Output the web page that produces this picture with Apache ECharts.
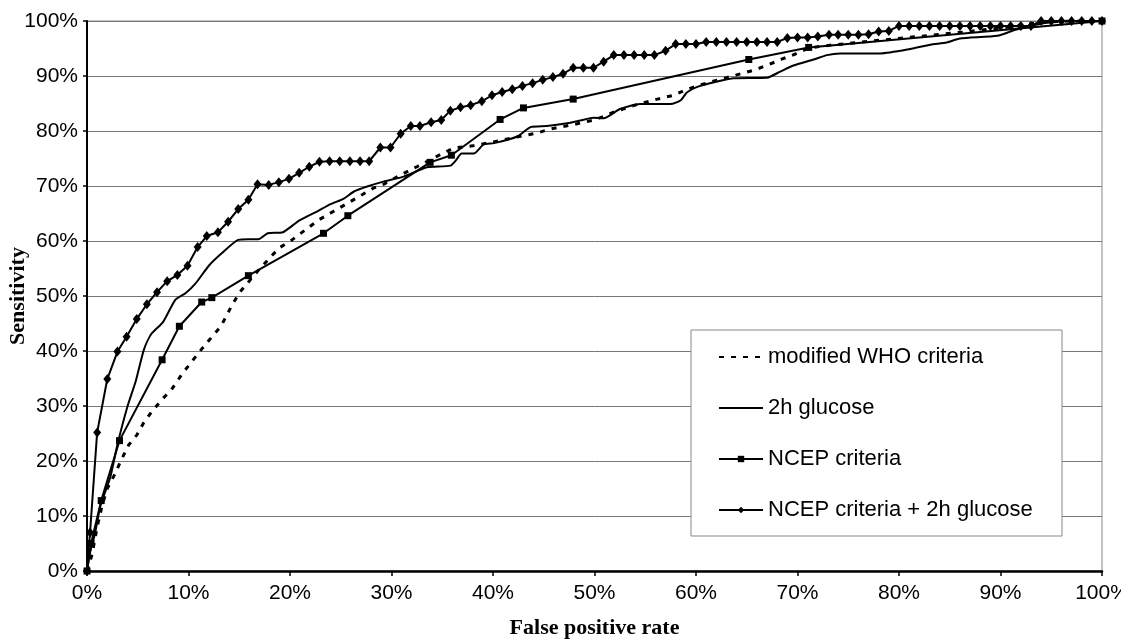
<!DOCTYPE html>
<html>
<head>
<meta charset="utf-8">
<script src="https://cdn.jsdelivr.net/npm/echarts@6/dist/echarts.min.js"></script>
<style>
html,body{margin:0;padding:0;background:#fff;}
#chart{width:1121px;height:639px;}
</style>
</head>
<body>
<div id="chart"></div>
<script>
// Tick values (percent)
const xTicks = [0,10,20,30,40,50,60,70,80,90,100];
const yTicks = [0,10,20,30,40,50,60,70,80,90,100];

// Series names
const seriesNames = ['modified WHO criteria','2h glucose','NCEP criteria','NCEP criteria + 2h glucose'];

// modified WHO criteria (dashed)
const whoX = [0,0.5,1,1.5,2,2.8,3.3,4.1,4.9,5.6,6.4,7.4,8.4,9.4,11.1,12,13.2,14.3,15.1,16.9,18.1,18.9,20.2,21.5,22.8,24.3,25.6,27.1,28.2,29.2,31.2,32.5,34.8,36.1,38,40,42,44.3,45.7,48,50,52,54,56.2,57.8,59,60.5,62,64,65.8,67.2,68.5,69.8,71.1,73.2,79.8,86.4,91.3,94,97,100];
const whoY = [0,3,8,12,15,17.8,19.9,22.9,24.7,27,29,31.2,33.2,35.9,39.9,41.9,44.5,48.4,50.8,54.7,57.1,58.7,60.2,62,63.8,65.4,66.8,68.4,69.6,70.3,72.3,73.5,75.7,76.9,77.3,78,78.8,79.6,80.4,81.2,82,83.5,84.7,85.8,86.5,87.5,88.4,89.2,90.2,91.1,92.1,93.1,94,95.1,95.6,96.8,98,99,99.8,100,100];

// 2h glucose (solid)
const gluX = [0,0.3,0.8,1.3,2.3,3.0,4.0,4.8,5.6,6.3,7.5,8.7,9.7,10.7,12,13.3,14.9,15.9,16.9,17.8,19.3,20.9,22.7,24,25.3,26.3,27.6,29.2,31.2,33.5,35.8,36.4,36.9,38.1,39.1,40.1,42.4,43.7,45.3,47.3,48.6,49.9,50.9,52.5,54.5,57.5,58.5,59.1,60.4,62.1,63.7,67,68.3,69.6,71.6,72.9,74.2,78.2,81.1,83.1,84.7,86,89.7,91.3,92.9,94.6,96.5,100];
const gluY = [0,3.3,6.9,11.7,17.1,23,30,34.5,40.2,43,45.3,49.3,50.5,52.3,55.5,57.8,60.2,60.3,60.3,61.4,61.6,63.7,65.4,66.7,67.7,69,69.9,70.8,71.7,73.4,73.7,74.8,75.9,75.9,77.6,77.8,79,80.7,80.9,81.4,81.9,82.4,82.3,84,84.9,84.9,85.6,87,88.2,89,89.6,89.7,90.8,91.9,93,93.8,94.1,94.1,94.9,95.7,96.1,96.8,97.3,98.3,99.1,99.7,100,100];

// NCEP criteria (squares)
const ncepX = [0,0.4,1.4,3.2,7.4,9.1,11.3,12.3,15.9,23.3,25.7,33.8,35.9,40.7,43,47.9,65.2,71.1,100];
const ncepY = [0,5,12.8,23.7,38.4,44.5,48.9,49.7,53.7,61.4,64.6,74.3,75.6,82.1,84.2,85.8,93,95.2,100];

// NCEP criteria + 2h glucose (diamonds)
const comboX = [0,0.3,1.0,2.0,3.0,3.9,4.9,5.9,6.9,7.9,8.9,9.9,10.9,11.8,12.9,13.9,14.9,15.9,16.8,17.9,18.9,19.9,20.9,21.9,22.9,23.9,24.9,25.9,26.9,27.8,28.9,29.9,30.9,31.9,32.8,33.9,34.9,35.8,36.8,37.8,38.9,39.9,40.9,41.9,42.9,43.9,44.9,45.9,46.9,47.9,48.9,49.9,50.9,51.9,52.9,53.9,54.9,55.9,57,58,59,60,61,62,63,64,65,66,67,68,69,70,71,72,73.1,74,75,76,77,78,79,80,81,82,83,84,85,86,87,88,89,90,91,92,93,94,95,96,97,98,99,100];
const comboY = [0,7,25.2,34.9,39.9,42.6,45.8,48.5,50.7,52.7,53.8,55.5,58.9,60.9,61.6,63.5,65.8,67.5,70.3,70.2,70.7,71.3,72.4,73.5,74.4,74.5,74.5,74.5,74.5,74.5,77,77,79.5,80.9,80.9,81.6,82,83.7,84.3,84.7,85.4,86.5,87.1,87.6,88.2,88.7,89.3,89.8,90.4,91.5,91.5,91.5,92.6,93.8,93.8,93.8,93.8,93.8,94.6,95.8,95.8,95.8,96.2,96.2,96.2,96.2,96.2,96.2,96.2,96.2,96.9,97,97,97.2,97.5,97.5,97.5,97.5,97.6,98.1,98.2,99.1,99.1,99.1,99.1,99.1,99.1,99.1,99.1,99.1,99.1,99.1,99.1,99.1,99.1,100,100,100,100,100,100,100];

function pairs(xs, ys){ return xs.map((x,i)=>[x, ys[i]]); }

const chart = echarts.init(document.getElementById('chart'), null, {renderer:'canvas'});
const sansFont = '"Liberation Sans", Arial, sans-serif';
const serifFont = '"Liberation Serif", "Times New Roman", serif';

chart.setOption({
  animation:false,
  backgroundColor:'#fff',
  color:['#000'],
  grid:{left:87, right:19, top:21, bottom:68, containLabel:false, outerBoundsMode:'none',
        show:true, borderColor:'#888', borderWidth:1, backgroundColor:'transparent'},
  xAxis:{
    type:'value', min:xTicks[0], max:xTicks[xTicks.length-1], interval:xTicks[1]-xTicks[0],
    name:'False positive rate', nameLocation:'middle', nameGap:46,
    nameTextStyle:{fontFamily:serifFont, fontWeight:'bold', fontSize:22, color:'#000'},
    axisLine:{show:true, onZero:false, lineStyle:{color:'#000', width:2.5}},
    axisTick:{show:true, length:5, lineStyle:{color:'#000', width:1.5}},
    axisLabel:{formatter:'{value}%', fontFamily:sansFont, fontSize:21, color:'#000', margin:12},
    splitLine:{show:false}
  },
  yAxis:{
    type:'value', min:yTicks[0], max:yTicks[yTicks.length-1], interval:yTicks[1]-yTicks[0],
    name:'Sensitivity', nameLocation:'middle', nameGap:69, nameMoveOverlap:false,
    nameTextStyle:{fontFamily:serifFont, fontWeight:'bold', fontSize:22, color:'#000', verticalAlign:'middle'},
    axisLine:{show:true, onZero:false, lineStyle:{color:'#000', width:2}},
    axisTick:{show:true, length:4, lineStyle:{color:'#000', width:1.5}},
    axisLabel:{formatter:'{value}%', fontFamily:sansFont, fontSize:21, color:'#000', margin:9},
    splitLine:{show:true, lineStyle:{color:'#777', width:1}}
  },
  legend:{
    orient:'vertical', left:718, top:346, padding:0, itemGap:29,
    itemWidth:44, itemHeight:8, z:10,
    data:[
      {name:seriesNames[0], itemStyle:{opacity:0}},
      {name:seriesNames[1], itemStyle:{opacity:0}},
      {name:seriesNames[2]},
      {name:seriesNames[3]}
    ],
    textStyle:{fontFamily:sansFont, fontSize:22, color:'#000', lineHeight:22}
  },
  graphic:{elements:[{type:'rect', z:5, shape:{x:691, y:330, width:371, height:206}, style:{fill:'#fff', stroke:'#888', lineWidth:1}}]},
  series:[
    {name:seriesNames[0], type:'line', data:pairs(whoX, whoY), symbol:'none', z:2,
     lineStyle:{color:'#000', width:3, type:[5,7]}},
    {name:seriesNames[1], type:'line', data:pairs(gluX, gluY), symbol:'none', smooth:0.2, z:2,
     lineStyle:{color:'#000', width:2}},
    {name:seriesNames[2], type:'line', data:pairs(ncepX, ncepY), symbol:'rect', symbolSize:7, showAllSymbol:true, z:3,
     itemStyle:{color:'#000'}, lineStyle:{color:'#000', width:2}},
    {name:seriesNames[3], type:'line', data:pairs(comboX, comboY), symbol:'diamond', symbolSize:[8,10], showAllSymbol:true, z:4,
     itemStyle:{color:'#000'}, lineStyle:{color:'#000', width:2}}
  ]
});
</script>
</body>
</html>
